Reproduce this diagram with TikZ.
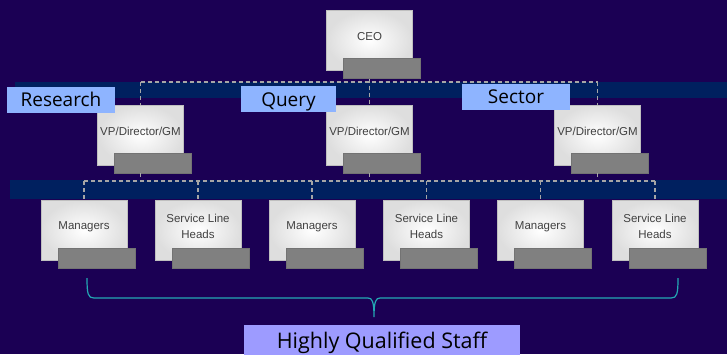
\documentclass[tikz,border=0pt]{standalone}
\usepackage{fontspec}
\setmainfont{Open Sans}
\newfontfamily\boxfont{Liberation Sans}
\usetikzlibrary{positioning}
\definecolor{bgpurple}{HTML}{1B0054}
\definecolor{bandblue}{HTML}{00205F}
\definecolor{tagblue}{HTML}{8EB4FF}
\definecolor{staffblue}{HTML}{9D9BFF}
\definecolor{linkgray}{HTML}{A6A6A6}
\definecolor{bracecyan}{HTML}{23A8B4}
\tikzset{
  unit/.style={rectangle,minimum width=86pt,minimum height=60pt,inner sep=0pt,
    draw=black!25,inner color=white,outer color=black!13},
  unitsh/.style={rectangle,minimum width=77pt,minimum height=20pt,inner sep=0pt,
    fill=black!50,draw=black!55,anchor=south east},
  unittext/.style={font=\boxfont\fontsize{11.5}{16}\selectfont,text=black!75,align=center},
  tag/.style={fill=tagblue,font=\fontsize{19}{22}\selectfont,inner sep=0pt,
    minimum height=26pt,text height=14pt,text depth=0pt},
  link/.style={draw=linkgray,line width=1.5pt,dash pattern=on 4pt off 3pt},
}

\begin{document}
\begin{tikzpicture}[x=1pt,y=-1pt]
\useasboundingbox (0,0) rectangle (727,354);
\fill[bgpurple] (0,0) rectangle (727,354);
% bands
\fill[bandblue] (15,81.5) rectangle (727,97.5);
\fill[bandblue] (10,180) rectangle (727,199);
\coordinate (bus1) at (0,82);
\coordinate (bus2) at (0,181);

% boxes
\node[unit,label={[unittext,yshift=4pt]center:CEO}] (ceo) at (369.5,40.5) {};
\node[unit,label={[unittext,yshift=4pt]center:VP/Director/GM}] (vpr) at (140.5,135) {};
\node[unit,label={[unittext,yshift=4pt]center:VP/Director/GM}] (vpq) at (369.5,135) {};
\node[unit,label={[unittext,yshift=4pt]center:VP/Director/GM}] (vps) at (597.5,135) {};
\node[unit,label={[unittext,yshift=4pt]center:Managers}] (m1) at (84,230.5) {};
\node[unit,label={[unittext,yshift=4pt]center:{Service Line\\Heads}}] (s1) at (198,230.5) {};
\node[unit,label={[unittext,yshift=4pt]center:Managers}] (m2) at (312,230.5) {};
\node[unit,label={[unittext,yshift=4pt]center:{Service Line\\Heads}}] (s2) at (426.5,230.5) {};
\node[unit,label={[unittext,yshift=4pt]center:Managers}] (m3) at (540.5,230.5) {};
\node[unit,label={[unittext,yshift=4pt]center:{Service Line\\Heads}}] (s3) at (655,230.5) {};
\foreach \n in {ceo,vpr,vpq,vps,m1,s1,m2,s2,m3,s3}
  \node[unitsh] (\n-sh) at ([shift={(8,8)}]\n.south east) {};

% connectors
\draw[link] (ceo |- ceo-sh.south) -- (vpq.north);
\draw[link] (vpr |- bus1) -- (vps |- bus1);
\draw[link] (vpr |- bus1) -- (vpr.north);
\draw[link] (vps |- bus1) -- (vps.north);
\foreach \v in {vpr,vpq,vps}
  \draw[link] (\v |- \v-sh.south) -- (\v |- bus2);
\draw[link] (m1 |- bus2) -- (s3 |- bus2);
\foreach \c in {m1,s1,m2,s2,m3,s3}
  \draw[link] (\c |- bus2) -- (\c.north);

% tags
\node[tag,minimum width=108pt] (research) at (61,99.5) {Research};
\node[tag,minimum width=95pt] (query) at (288.5,99) {Query};
\node[tag,minimum width=108pt] (sector) at (516,96.5) {Sector};

% brace and staff
\draw[bracecyan,line width=1.2pt] (87,278) .. controls (87,294) and (88,298) .. (94,298)
  -- (368,298) .. controls (372,298) and (374,301) .. (374,317)
  .. controls (374,301) and (376,298) .. (380,298)
  -- (671,298) .. controls (677,298) and (678,294) .. (678,278);
\node[fill=staffblue,font=\fontsize{21.5}{24}\selectfont,minimum width=276pt,
  inner ysep=7pt,text height=16pt,text depth=6pt,anchor=north] (staff) at (382,325) {Highly Qualified Staff};
\end{tikzpicture}
\end{document}
